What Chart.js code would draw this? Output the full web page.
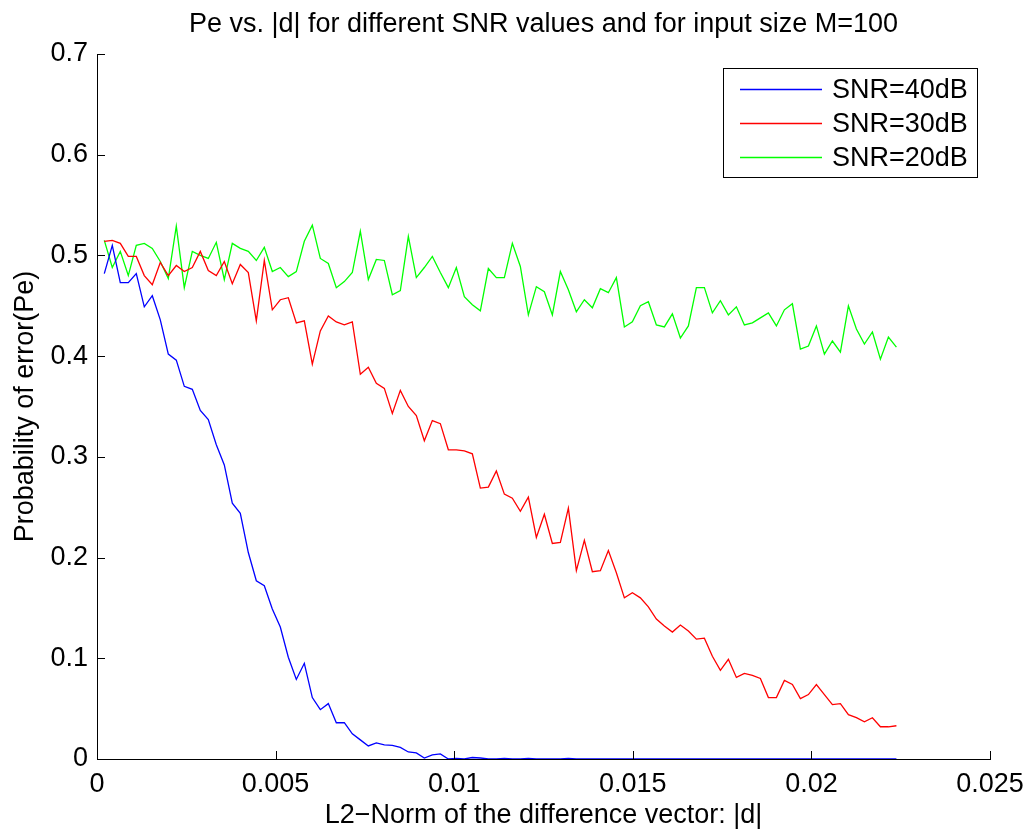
<!DOCTYPE html>
<html>
<head>
<meta charset="utf-8">
<script src="https://cdn.jsdelivr.net/npm/chart.js@4.4.1/dist/chart.umd.min.js"></script>
<style>
html,body{margin:0;padding:0;background:#fff;}
#wrap{width:1030px;height:834px;}
</style>
</head>
<body>
<div id="wrap"><canvas id="c" width="1030" height="834"></canvas></div>
<script>
// ---- data ----
const xValues = [
0.000204,0.000428,0.000652,0.000876,0.001100,0.001324,0.001548,0.001772,0.001996,0.002220,
0.002444,0.002668,0.002892,0.003116,0.003340,0.003564,0.003788,0.004012,0.004236,0.004460,
0.004684,0.004908,0.005132,0.005356,0.005580,0.005804,0.006028,0.006252,0.006476,0.006700,
0.006924,0.007148,0.007372,0.007596,0.007820,0.008044,0.008268,0.008492,0.008716,0.008940,
0.009164,0.009388,0.009612,0.009836,0.010060,0.010284,0.010508,0.010732,0.010956,0.011180,
0.011404,0.011628,0.011852,0.012076,0.012300,0.012524,0.012748,0.012972,0.013196,0.013420,
0.013644,0.013868,0.014092,0.014316,0.014540,0.014764,0.014988,0.015212,0.015436,0.015660,
0.015884,0.016108,0.016332,0.016556,0.016780,0.017004,0.017228,0.017452,0.017676,0.017900,
0.018124,0.018348,0.018572,0.018796,0.019020,0.019244,0.019468,0.019692,0.019916,0.020140,
0.020364,0.020588,0.020812,0.021036,0.021260,0.021484,0.021708,0.021932,0.022156,0.022380
];
const snr40 = [
0.482,0.510,0.473,0.473,0.482,0.449,0.460,0.436,0.402,0.396,
0.370,0.367,0.346,0.337,0.312,0.292,0.254,0.244,0.205,0.177,
0.172,0.149,0.131,0.101,0.079,0.095,0.061,0.049,0.055,0.036,
0.036,0.025,0.019,0.013,0.016,0.014,0.0135,0.0115,0.007,0.006,
0.001,0.004,0.005,0,0.0005,0,0.0015,0.001,0,0,
0.0005,0,0,0.0005,0,0,0,0,0.0005,0,
0,0,0,0,0,0,0,0,0,0,
0,0,0,0,0,0,0,0,0,0,
0,0,0,0,0,0,0,0,0,0,
0,0,0,0,0,0,0,0,0,0
];
const snr30 = [
0.514,0.515,0.512,0.499,0.499,0.480,0.471,0.493,0.480,0.490,
0.484,0.488,0.504,0.485,0.480,0.494,0.472,0.491,0.483,0.435,
0.495,0.446,0.456,0.458,0.433,0.435,0.392,0.425,0.440,0.434,
0.431,0.434,0.382,0.389,0.373,0.368,0.343,0.366,0.350,0.341,
0.316,0.336,0.333,0.307,0.307,0.306,0.303,0.269,0.270,0.286,
0.263,0.259,0.246,0.260,0.220,0.243,0.214,0.215,0.249,0.187,
0.217,0.186,0.187,0.207,0.185,0.160,0.165,0.160,0.151,0.139,
0.132,0.126,0.133,0.127,0.119,0.120,0.102,0.088,0.099,0.081,
0.085,0.083,0.080,0.061,0.061,0.078,0.074,0.060,0.064,0.074,
0.064,0.054,0.055,0.044,0.041,0.037,0.041,0.032,0.032,0.033
];
const snr20 = [
0.515,0.488,0.504,0.480,0.510,0.512,0.507,0.494,0.477,0.529,
0.468,0.504,0.500,0.497,0.513,0.476,0.512,0.507,0.504,0.495,
0.508,0.484,0.488,0.479,0.484,0.514,0.530,0.497,0.492,0.468,
0.474,0.483,0.524,0.476,0.496,0.495,0.461,0.465,0.519,0.478,
0.488,0.499,0.483,0.468,0.488,0.459,0.451,0.445,0.487,0.478,
0.478,0.512,0.489,0.441,0.469,0.464,0.441,0.484,0.466,0.444,
0.456,0.448,0.467,0.463,0.478,0.429,0.434,0.450,0.454,0.431,
0.429,0.442,0.418,0.430,0.468,0.468,0.443,0.455,0.441,0.449,
0.431,0.433,0.438,0.443,0.430,0.446,0.452,0.407,0.410,0.430,
0.402,0.415,0.404,0.450,0.427,0.412,0.424,0.397,0.419,0.409
];
const seriesLabels = ['SNR=40dB','SNR=30dB','SNR=20dB'];
const seriesColors = ['#0000ff','#ff0000','#00ff00'];
const xTickLabels = ['0','0.005','0.01','0.015','0.02','0.025'];
const yTickLabels = ['0','0.1','0.2','0.3','0.4','0.5','0.6','0.7'];
const titleText = 'Pe vs. |d| for different SNR values and for input size M=100';
const xTitleText = 'L2\u2212Norm of the difference vector: |d|';
const yTitleText = 'Probability of error(Pe)';

// ---- chart ----
const FONT = '"Liberation Sans", Arial, Helvetica, sans-serif';
Chart.defaults.font.family = FONT;
Chart.defaults.color = '#000';

const seriesValues = [snr40, snr30, snr20];
const datasets = seriesValues.map((vals, i) => ({
  label: seriesLabels[i],
  data: vals.map((v, j) => ({x: xValues[j], y: v})),
  borderColor: seriesColors[i],
  backgroundColor: seriesColors[i],
  borderWidth: 1.3,
  pointRadius: 0,
  pointHoverRadius: 0,
  tension: 0,
  fill: false
}));

const inwardTicks = {
  id: 'inwardTicks',
  afterDraw(chart) {
    const {ctx, chartArea: a, scales: {x, y}} = chart;
    ctx.save();
    ctx.strokeStyle = '#000';
    ctx.lineWidth = 1;
    ctx.beginPath();
    x.ticks.forEach(t => {
      const px = Math.round(x.getPixelForValue(t.value)) + 0.5;
      ctx.moveTo(px, a.bottom); ctx.lineTo(px, a.bottom - 8);
    });
    y.ticks.forEach(t => {
      const py = Math.round(y.getPixelForValue(t.value)) + 0.5;
      ctx.moveTo(a.left, py); ctx.lineTo(a.left + 8, py);
    });
    ctx.stroke();
    ctx.restore();
  }
};

const boxLegend = {
  id: 'boxLegend',
  afterDraw(chart) {
    const {ctx, chartArea: a} = chart;
    const ds = chart.data.datasets;
    const w = 254, h = 109, rowH = 33.7;
    const right = a.right - 13, left = right - w, top = a.top + 14;
    ctx.save();
    ctx.fillStyle = '#fff';
    ctx.fillRect(left, top, w, h);
    ctx.strokeStyle = '#000';
    ctx.lineWidth = 1;
    ctx.strokeRect(Math.round(left) + 0.5, Math.round(top) + 0.5, w, h);
    ctx.font = '27px ' + FONT;
    ctx.textBaseline = 'middle';
    ctx.textAlign = 'left';
    ds.forEach((d, i) => {
      const ly = Math.round(top + 21.3 + i * rowH) + 0.5;
      ctx.strokeStyle = d.borderColor;
      ctx.lineWidth = 1.3;
      ctx.beginPath();
      ctx.moveTo(left + 17, ly); ctx.lineTo(left + 99, ly);
      ctx.stroke();
      ctx.fillStyle = '#000';
      ctx.fillText(d.label, left + 109, ly + 1);
    });
    ctx.restore();
  }
};

new Chart(document.getElementById('c'), {
  type: 'line',
  data: {datasets},
  plugins: [inwardTicks, boxLegend],
  options: {
    responsive: false,
    devicePixelRatio: 1,
    animation: false,
    layout: {padding: {left: 0, right: 40, top: 0, bottom: 0}},
    plugins: {
      legend: {display: false},
      tooltip: {enabled: false},
      title: {
        display: true,
        text: titleText,
        color: '#000',
        fullSize: false,
        font: {size: 27, weight: 'normal', family: FONT},
        padding: {top: 8, bottom: 13.6}
      }
    },
    scales: {
      x: {
        type: 'linear',
        min: 0, max: 0.025,
        ticks: {
          stepSize: 0.005, padding: 6, color: '#000',
          font: {size: 27, lineHeight: 1.45}, maxRotation: 0, autoSkip: false,
          callback: (v, i) => xTickLabels[i]
        },
        grid: {display: true, drawOnChartArea: false, drawTicks: false},
        border: {display: true, color: '#000', width: 1},
        title: {display: true, text: xTitleText, color: '#000', font: {size: 27}, padding: {top: 0, bottom: 2}},
        afterFit(s) { s.height = 75; }
      },
      y: {
        type: 'linear',
        min: 0, max: 0.7,
        ticks: {
          stepSize: 0.1, padding: 9, color: '#000',
          font: {size: 27},
          callback: (v, i) => yTickLabels[i]
        },
        grid: {display: true, drawOnChartArea: false, drawTicks: false},
        border: {display: true, color: '#000', width: 1},
        title: {display: true, text: yTitleText, color: '#000', font: {size: 27}, padding: {top: 9, bottom: 0}},
        afterFit(s) { s.width = 97; }
      }
    }
  }
});
</script>
</body>
</html>
